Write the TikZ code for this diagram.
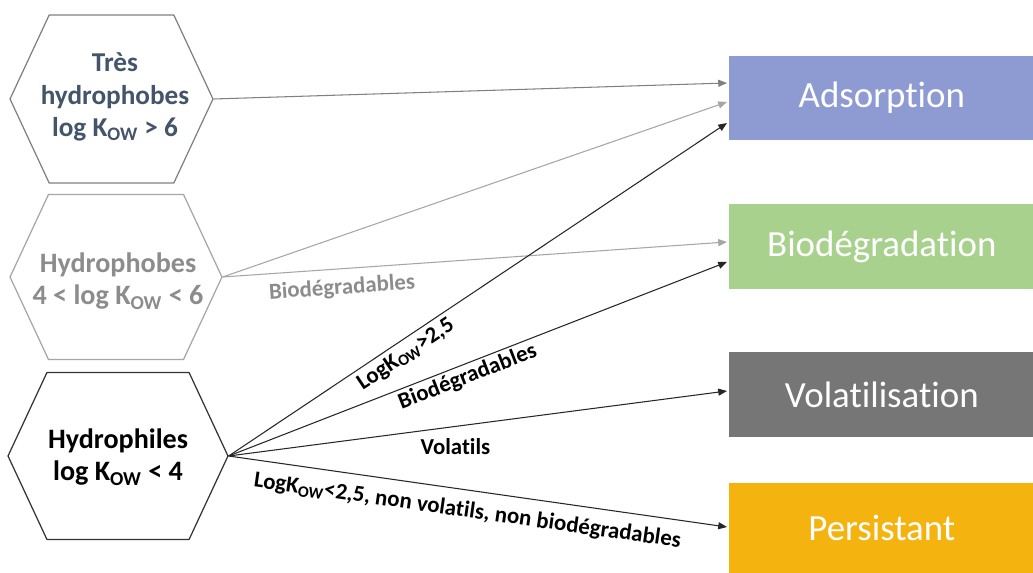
\documentclass[tikz,border=0pt]{standalone}
\usepackage{fontspec}
\setmainfont{Carlito}[Ligatures=NoCommon]
\usetikzlibrary{shapes.symbols,arrows.meta,calc}

\definecolor{bleuhex}{HTML}{44546A}
\definecolor{grishex}{HTML}{8C8C8C}
\definecolor{adsorp}{HTML}{8E9BD2}
\definecolor{biodeg}{HTML}{A9D18E}
\definecolor{volat}{HTML}{767676}
\definecolor{persist}{HTML}{F5B30F}

\begin{document}
\begin{tikzpicture}[x=0.02cm,y=-0.02cm,
    hexa/.style={signal, signal to=west and east, signal pointer angle=130,
      draw, line width=0.7pt, inner sep=0pt},
    hextxt/.style={align=center, inner sep=0pt,
      font=\bfseries\fontsize{16}{18.5}\selectfont},
    procbox/.style={anchor=west, minimum width=6.1cm, inner sep=0pt,
      text=white, font=\fontsize{21}{25}\selectfont},
    fleche/.style={-{Triangle[length=5pt,width=4pt]}, line width=0.6pt},
    etiq/.style={font=\bfseries\fontsize{13}{15}\selectfont, inner sep=1pt}]
  \useasboundingbox[fill=white] (0,0) rectangle (1033,573);

  % classes de composes
  \node[hexa, draw=gray, minimum width=4.06cm, minimum height=3.36cm] (tres) at (111.5,99) {};
  \node[hexa, draw=gray!70, minimum width=4.24cm, minimum height=3.3cm] (hydrob) at (116,277) {};
  \node[hexa, draw=black!80, minimum width=4.4cm, minimum height=3.34cm] (hydrol) at (118,456) {};

  \node[hextxt, text=bleuhex, font=\bfseries\fontsize{15.5}{18.5}\selectfont] (tres-txt) at (115,97)
    {Très\\hydrophobes\\log K\textsubscript{OW} > 6};
  \node[hextxt, text=grishex] (hydrob-txt) at (118,281) {Hydrophobes\\4 < log K\textsubscript{OW} < 6};
  \node[hextxt, text=black] (hydrol-txt) at (118,457) {Hydrophiles\\log K\textsubscript{OW} < 4};

  % devenir
  \node[procbox, fill=adsorp, minimum height=1.68cm] (ads) at (729,98) {Adsorption};
  \node[procbox, fill=biodeg, minimum height=1.7cm] (bio) at (729,246.5) {Biodégradation};
  \node[procbox, fill=volat, minimum height=1.7cm] (vol) at (729,394.5) {Volatilisation};
  \node[procbox, fill=persist, minimum height=1.8cm] (per) at (729,528) {Persistant};

  % fleches
  \draw[fleche, draw=gray] (tres.east) -- ($(ads.west)+(-2,-15)$);
  \draw[fleche, draw=gray!70] (hydrob.east) -- ($(ads.west)+(-2,4)$);
  \draw[fleche, draw=gray!70] (hydrob.east) --
    node[etiq, sloped, below=4pt, pos=0.234, text=grishex] {Biodégradables}
    ($(bio.west)+(-2,-4.5)$);
  \draw[fleche, draw=black!85] (hydrol.east) --
    node[etiq, sloped, below=1.5pt, pos=0.34] {LogK\textsubscript{OW}>2,5}
    ($(ads.west)+(-2,25)$);
  \draw[fleche, draw=black!85] (hydrol.east) --
    node[etiq, sloped, below=0.5pt, pos=0.47] {Biodégradables}
    ($(bio.west)+(-2,15.5)$);
  \draw[fleche, draw=black!85] (hydrol.east) --
    node[etiq, below=5.5pt, pos=0.455] {Volatils}
    ($(vol.west)+(-2,-3.5)$);
  \draw[fleche, draw=black!85] (hydrol.east) --
    node[etiq, sloped, below=5pt, pos=0.485] {LogK\textsubscript{OW}<2,5, non volatils, non biodégradables}
    ($(per.west)+(-2,-1)$);
\end{tikzpicture}
\end{document}
